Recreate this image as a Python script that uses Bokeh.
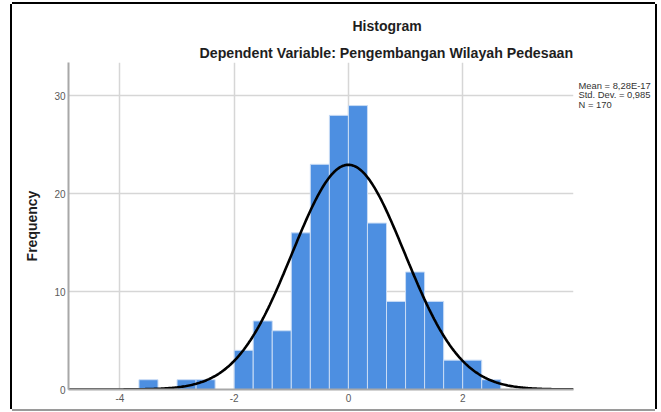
import numpy as np
from bokeh.plotting import figure
from bokeh.models import FixedTicker, Range1d, Title, LinearAxis
from bokeh.embed import file_html
from bokeh.resources import INLINE

# ---- data ----
bin_start = -11 / 3
bin_width = 1 / 3
counts = [1, 0, 1, 1, 0, 4, 7, 6, 16, 23, 28, 29, 17, 9, 12, 9, 3, 3, 1]
x_ticks = [-4, -2, 0, 2]
y_ticks = [0, 10, 20, 30]
mean_val = 8.28e-17
std_val = 0.985
n_val = 170
title_text = "Histogram"
subtitle_text = "Dependent Variable: Pengembangan Wilayah Pedesaan"
y_label = "Frequency"
stats_lines = ["Mean = 8,28E-17", "Std. Dev. = 0,985", "N = 170"]
x_lo, x_hi = -4.9, 3.94
y_lo, y_hi = 0, 33.4

lefts = [bin_start + i * bin_width for i in range(len(counts))]
rights = [l + bin_width for l in lefts]

# normal curve from the stated parameters
xs = np.linspace(x_lo, x_hi, 400)
ys = n_val * bin_width * np.exp(-0.5 * ((xs - mean_val) / std_val) ** 2) / (std_val * np.sqrt(2 * np.pi))

p = figure(width=643, height=405, output_backend="svg", toolbar_location=None,
           x_range=Range1d(x_lo, x_hi), y_range=Range1d(y_lo, y_hi),
           min_border_left=56, min_border_right=82, min_border_top=58, min_border_bottom=20,
           title=Title(text=title_text, align="left", offset=284, vertical_align="top",
                       standoff=10, text_font="Liberation Sans", text_font_style="bold",
                       text_font_size="14px", text_color="#1e1e1e"))
p.margin = (4, 0, 0, 12)
p.styles = {"box-shadow": "0 2px 0 0 #9a9a9a, 2px 0 0 0 #000, -2px 0 0 0 #000, 0 -2px 0 0 #000"}
p.add_layout(Title(text=subtitle_text, align="left", offset=131, vertical_align="bottom",
                   standoff=4, text_font="Liberation Sans", text_font_style="bold",
                   text_font_size="14.2px", text_color="#1e1e1e"), "above")
p.outline_line_color = None
p.background_fill_color = "white"
p.border_fill_color = "white"

p.quad(left=lefts, right=rights, bottom=0, top=counts,
       fill_color="#4d8fe1", line_color="#c9dcf5", line_width=1)
p.line(xs, ys, line_color="black", line_width=2.6)

for ax in (p.xaxis, p.yaxis):
    ax.major_tick_line_color = None
    ax.minor_tick_line_color = None
    ax.major_tick_out = 0
    ax.major_tick_in = 0
    ax.minor_tick_out = 0
    ax.minor_tick_in = 0
    ax.axis_line_color = "#a8a8a8"
    ax.axis_line_width = 2
    ax.major_label_text_font = "Liberation Sans"
    ax.major_label_text_font_size = "10px"
    ax.major_label_text_color = "#5a5a5a"
p.xaxis.ticker = FixedTicker(ticks=x_ticks)
p.xaxis.major_label_overrides = {t: str(t) for t in x_ticks}
p.yaxis.ticker = FixedTicker(ticks=y_ticks)
p.xaxis.major_label_standoff = 4
p.yaxis.major_label_standoff = 3
p.yaxis.axis_label = y_label
p.yaxis.axis_label_standoff = 11
p.yaxis.axis_label_text_font = "Liberation Sans"
p.yaxis.axis_label_text_font_style = "bold"
p.yaxis.axis_label_text_font_size = "14px"
p.yaxis.axis_label_text_color = "#1e1e1e"

p.xgrid.ticker = FixedTicker(ticks=x_ticks)
p.ygrid.ticker = FixedTicker(ticks=y_ticks)
for g in (p.xgrid, p.ygrid):
    g.grid_line_color = "#d6d6d6"
    g.grid_line_width = 1.5

# statistics box text, drawn as labels of a bare right-hand axis
p.extra_y_ranges = {"stats": Range1d(-29.0, 5.42)}
stats_ticks = [3, 2, 1]
stats_axis = LinearAxis(y_range_name="stats", ticker=FixedTicker(ticks=stats_ticks),
                        major_label_overrides={t: s for t, s in zip(stats_ticks, stats_lines)},
                        axis_line_color=None, major_tick_line_color=None,
                        minor_tick_line_color=None, major_tick_out=0, major_tick_in=0,
                        minor_tick_out=0, minor_tick_in=0, major_label_standoff=5,
                        major_label_text_font="Liberation Sans", major_label_text_font_size="9.4px",
                        major_label_text_color="#333333")
p.add_layout(stats_axis, "right")

open("out.html", "w").write(file_html(p, INLINE))
